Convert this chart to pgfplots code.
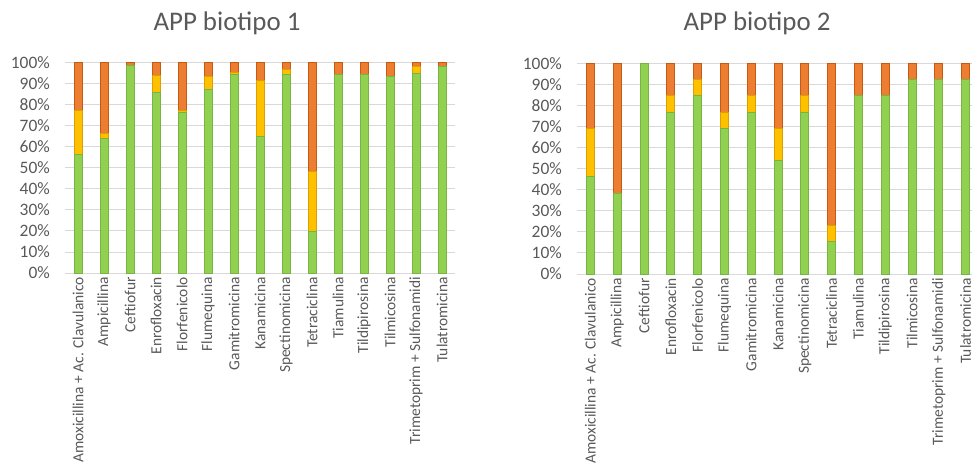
\documentclass[border=0pt]{standalone}
\usepackage{fontspec}
\setmainfont{Carlito}
\usepackage{pgfplots}
\pgfplotsset{compat=1.18}
\definecolor{cgreen}{HTML}{92D050}
\definecolor{cgreenb}{HTML}{78B443}
\definecolor{cyellow}{HTML}{FFC000}
\definecolor{cyellowb}{HTML}{D9A000}
\definecolor{corange}{HTML}{ED7D31}
\definecolor{corangeb}{HTML}{C55A11}
\definecolor{cgrid}{HTML}{D9D9D9}
\definecolor{ctext}{HTML}{595959}

\pgfplotsset{biostyle/.style={
  scale only axis, anchor=south west,
  ybar stacked, bar width=8bp,
  xmin=-0.5, xmax=14.5, ymin=0, ymax=100,
  xtick={0,...,14},
  xticklabels={Amoxicillina + Ac. Clavulanico, Ampicillina, Ceftiofur, Enrofloxacin, Florfenicolo, Flumequina, Gamitromicina, Kanamicina, Spectinomicina, Tetraciclina, Tiamulina, Tildipirosina, Tilmicosina, Trimetoprim + Sulfonamidi, Tulatromicina},
  ytick={0,10,...,100},
  yticklabel={\pgfmathprintnumber{\tick}\%},
  /pgf/number format/assume math mode=true,
  ymajorgrids, grid style={cgrid, line width=0.9bp},
  axis line style={draw=none},
  major tick length=0pt,
  tick style={draw=none},
  ticklabel style={text=ctext},
  yticklabel style={font=\fontsize{17.5}{17.5}\selectfont, anchor=east, inner sep=0pt, xshift=-15bp},
  xticklabel style={font=\fontsize{15.5}{15.5}\selectfont, rotate=90, anchor=east, inner sep=0pt},
  xticklabel shift=4bp,
  clip=false,
}}

\begin{document}
\begin{tikzpicture}
\node[text=ctext, font=\fontsize{27}{27}\selectfont] at (227bp,442bp) {APP biotipo 1};
\node[text=ctext, font=\fontsize{27}{27}\selectfont] at (757bp,442bp) {APP biotipo 2};

\begin{axis}[biostyle, at={(65bp,192bp)}, width=390bp, height=210.3bp]
\addplot[fill=cgreen, draw=cgreenb, line width=0.8bp] coordinates {
(0,56.2) (1,64.1) (2,98.9) (3,85.9) (4,76.6) (5,87.2) (6,94.3) (7,65.0) (8,94.6) (9,19.6) (10,94.6) (11,94.6) (12,93.4) (13,94.9) (14,98.1)};
\addplot[fill=cyellow, draw=cyellowb, line width=0.8bp] coordinates {
(0,21.0) (1,2.2) (2,0) (3,7.9) (4,0.9) (5,6.2) (6,1.0) (7,26.6) (8,2.2) (9,28.5) (10,0) (11,0) (12,0) (13,3.2) (14,0)};
\addplot[fill=corange, draw=corangeb, line width=0.8bp] coordinates {
(0,22.8) (1,33.7) (2,1.1) (3,6.2) (4,22.5) (5,6.6) (6,4.7) (7,8.4) (8,3.2) (9,51.9) (10,5.4) (11,5.4) (12,6.6) (13,1.9) (14,1.9)};
\end{axis}

\begin{axis}[biostyle, at={(577bp,191bp)}, width=402bp, height=210.7bp]
\addplot[fill=cgreen, draw=cgreenb, line width=0.8bp] coordinates {
(0,46.15) (1,38.46) (2,100) (3,76.92) (4,84.62) (5,69.23) (6,76.92) (7,53.85) (8,76.92) (9,15.38) (10,84.62) (11,84.62) (12,92.31) (13,92.31) (14,92.31)};
\addplot[fill=cyellow, draw=cyellowb, line width=0.8bp] coordinates {
(0,23.08) (1,0) (2,0) (3,7.69) (4,7.69) (5,7.69) (6,7.69) (7,15.38) (8,7.69) (9,7.69) (10,0) (11,0) (12,0) (13,0) (14,0)};
\addplot[fill=corange, draw=corangeb, line width=0.8bp] coordinates {
(0,30.77) (1,61.54) (2,0) (3,15.38) (4,7.69) (5,23.08) (6,15.38) (7,30.77) (8,15.38) (9,76.92) (10,15.38) (11,15.38) (12,7.69) (13,7.69) (14,7.69)};
\end{axis}

\pgfresetboundingbox
\useasboundingbox (0,0) rectangle (972bp,465bp);
\end{tikzpicture}
\end{document}
